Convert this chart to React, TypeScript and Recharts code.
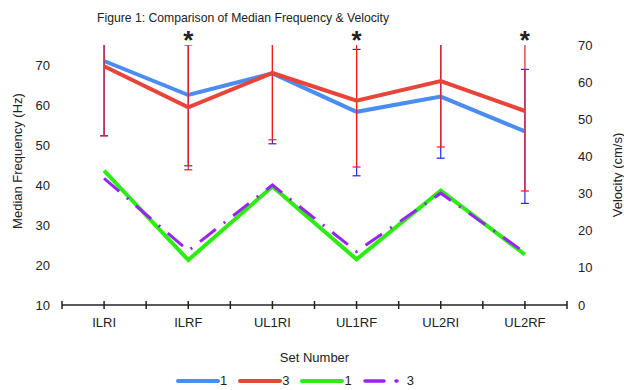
import React from "react";
import {
  ComposedChart, Line, XAxis, YAxis, ErrorBar, ReferenceDot, Legend,
} from "recharts";

const categories = ["ILRI", "ILRF", "UL1RI", "UL1RF", "UL2RI", "UL2RF"];
const hzSet1 = [71.0, 62.5, 67.9, 58.3, 62.1, 53.4];
const hzSet3 = [69.7, 59.4, 68.0, 61.1, 66.0, 58.5];
// [lower, upper]
const hzSet1Err = [[18.7, 18.7], [17.7, 17.7], [17.6, 17.6], [16.0, 15.6], [15.4, 15.4], [18.0, 15.5]];
const hzSet3Err = [[17.4, 17.4], [15.6, 15.6], [16.7, 16.7], [16.6, 16.6], [16.5, 16.5], [20.0, 20.0]];
const velSet1 = [36.2, 12.1, 31.9, 12.3, 30.8, 13.6];
const velSet3 = [34.1, 14.6, 32.3, 14.4, 30.1, 14.1];
const starred = ["ILRF", "UL1RF", "UL2RF"];
const hzTicks = [10, 20, 30, 40, 50, 60, 70];
const velTicks = [0, 10, 20, 30, 40, 50, 60, 70];

const data = categories.map((name, i) => ({
  x: i,
  name,
  hz1: hzSet1[i],
  hz3: hzSet3[i],
  hz1Err: hzSet1Err[i],
  hz3Err: hzSet3Err[i],
  vel1: velSet1[i],
  vel3: velSet3[i],
}));

// centers + band edges
const xTicks = categories.flatMap((_, i) => [i - 0.5, i]).concat([categories.length - 0.5]);

const W = 624;
const H = 390;
const M = { top: 45, right: 0, bottom: 0, left: 0 };
const Y_LEFT_W = 62;
const Y_RIGHT_W = 57;
const X_AXIS_H = 65;
const LEGEND_H = 20;

const FONT = "'Liberation Sans', Arial, sans-serif";
const INK = "#222";

const BLUE = "#4a8cf0";
const RED = "#e8453a";
const GREEN = "#2ced12";
const PURPLE = "#9b22f0";

function XTick(props: any) {
  const { x, y, payload } = props;
  const center = Number.isInteger(payload.value);
  return (
    <g>
      <line x1={x} x2={x} y1={y - 4} y2={y + 4} stroke={INK} strokeWidth={1.5} />
      {center && (
        <text x={x} y={y + 22} textAnchor="middle" fill={INK} fontSize={13} fontFamily={FONT}>
          {categories[payload.value]}
        </text>
      )}
    </g>
  );
}

const legendItems = [
  { label: "1", color: BLUE, dash: undefined, w: 4 },
  { label: "3", color: RED, dash: undefined, w: 4 },
  { label: "1", color: GREEN, dash: undefined, w: 4 },
  { label: "3", color: PURPLE, dash: "19 12 1 20", w: 3.5 },
];

function LegendContent() {
  return (
    <div style={{ display: "flex", paddingLeft: 176, paddingTop: 3, fontFamily: FONT, fontSize: 13, color: INK }}>
      {legendItems.map((it, i) => (
        <div key={i} style={{ display: "flex", alignItems: "center", marginRight: 11 }}>
          <svg width={44} height={10}>
            <line x1={2} x2={42} y1={5} y2={5} stroke={it.color} strokeWidth={it.w}
              strokeLinecap="round" strokeDasharray={it.dash} />
          </svg>
          <span>{it.label}</span>
        </div>
      ))}
    </div>
  );
}

// plot box, from the margins above (used to clip error bars that run past the top)
const plotX = M.left + Y_LEFT_W;
const plotY = M.top;
const plotW = W - M.left - M.right - Y_LEFT_W - Y_RIGHT_W;
const plotH = H - M.top - M.bottom - X_AXIS_H - LEGEND_H;

export default function App() {
  return (
    <div style={{ position: "absolute", left: 0, top: 0, width: W, height: H, background: "#fff" }}>
      <svg width={0} height={0} style={{ position: "absolute" }}>
        <defs>
          <clipPath id="plotClip" clipPathUnits="userSpaceOnUse">
            <rect x={plotX} y={plotY} width={plotW} height={plotH} />
          </clipPath>
        </defs>
      </svg>
      <style>{`.recharts-line, .recharts-errorBars, .recharts-errorBar { clip-path: url(#plotClip); }`}</style>
      <div style={{
        position: "absolute", left: 0, width: 486, top: 11, textAlign: "center",
        fontFamily: FONT, fontSize: 12.2, color: INK,
      }}>
        Figure 1: Comparison of Median Frequency &amp; Velocity
      </div>
      <ComposedChart width={W} height={H} data={data} margin={M}>
        <XAxis xAxisId="x" dataKey="x" type="number" domain={[-0.5, 5.5]} ticks={xTicks}
          interval={0} tick={<XTick />} tickLine={false} tickSize={0} tickMargin={0}
          axisLine={{ stroke: INK, strokeWidth: 1.5 }} height={X_AXIS_H}
          label={{ value: "Set Number", position: "insideBottom", offset: 8, fill: INK, fontSize: 13, fontFamily: FONT }} />
        <YAxis yAxisId="hz" orientation="left" domain={[10, 75]} allowDataOverflow ticks={hzTicks}
          width={Y_LEFT_W} axisLine={false} tickLine={false} tickSize={6} tickMargin={6}
          tick={{ fill: INK, fontSize: 13, fontFamily: FONT }}
          label={{ value: "Median Frequency (Hz)", angle: -90, position: "center", dx: -14, dy: -14, fill: INK, fontSize: 13, fontFamily: FONT }} />
        <YAxis yAxisId="vel" orientation="right" domain={[0, 70]} allowDataOverflow ticks={velTicks}
          width={Y_RIGHT_W} axisLine={false} tickLine={false} tickSize={6} tickMargin={5}
          tick={{ fill: INK, fontSize: 13, fontFamily: FONT, textAnchor: "start" }}
          label={{ value: "Velocity (cm/s)", angle: -90, position: "center", dx: 22, dy: 0, fill: INK, fontSize: 13, fontFamily: FONT }} />
        <Legend verticalAlign="bottom" height={LEGEND_H} content={<LegendContent />}
          wrapperStyle={{ left: 0, width: W }} />
        <Line xAxisId="x" yAxisId="hz" dataKey="hz1" stroke={BLUE} strokeWidth={4} dot={false}
          isAnimationActive={false}>
          <ErrorBar dataKey="hz1Err" direction="y" stroke="#1b2cf0" strokeWidth={1.2} width={4} isAnimationActive={false} />
        </Line>
        <Line xAxisId="x" yAxisId="hz" dataKey="hz3" stroke={RED} strokeWidth={4} dot={false}
          isAnimationActive={false}>
          <ErrorBar dataKey="hz3Err" direction="y" stroke="#f01a1a" strokeWidth={1.2} width={4} isAnimationActive={false} />
        </Line>
        <Line xAxisId="x" yAxisId="vel" dataKey="vel1" stroke={GREEN} strokeWidth={4} dot={false}
          isAnimationActive={false} />
        <Line xAxisId="x" yAxisId="vel" dataKey="vel3" stroke={PURPLE} strokeWidth={3} dot={false}
          strokeDasharray="20 10 2 10" isAnimationActive={false} />
        {starred.map((c) => (
          <ReferenceDot key={c} xAxisId="x" yAxisId="hz" x={categories.indexOf(c)} y={75} r={0}
            fill="none" stroke="none"
            label={{ value: "*", position: "center", dy: -5, fill: INK, fontSize: 26, fontWeight: "bold", fontFamily: FONT }} />
        ))}
      </ComposedChart>
    </div>
  );
}
